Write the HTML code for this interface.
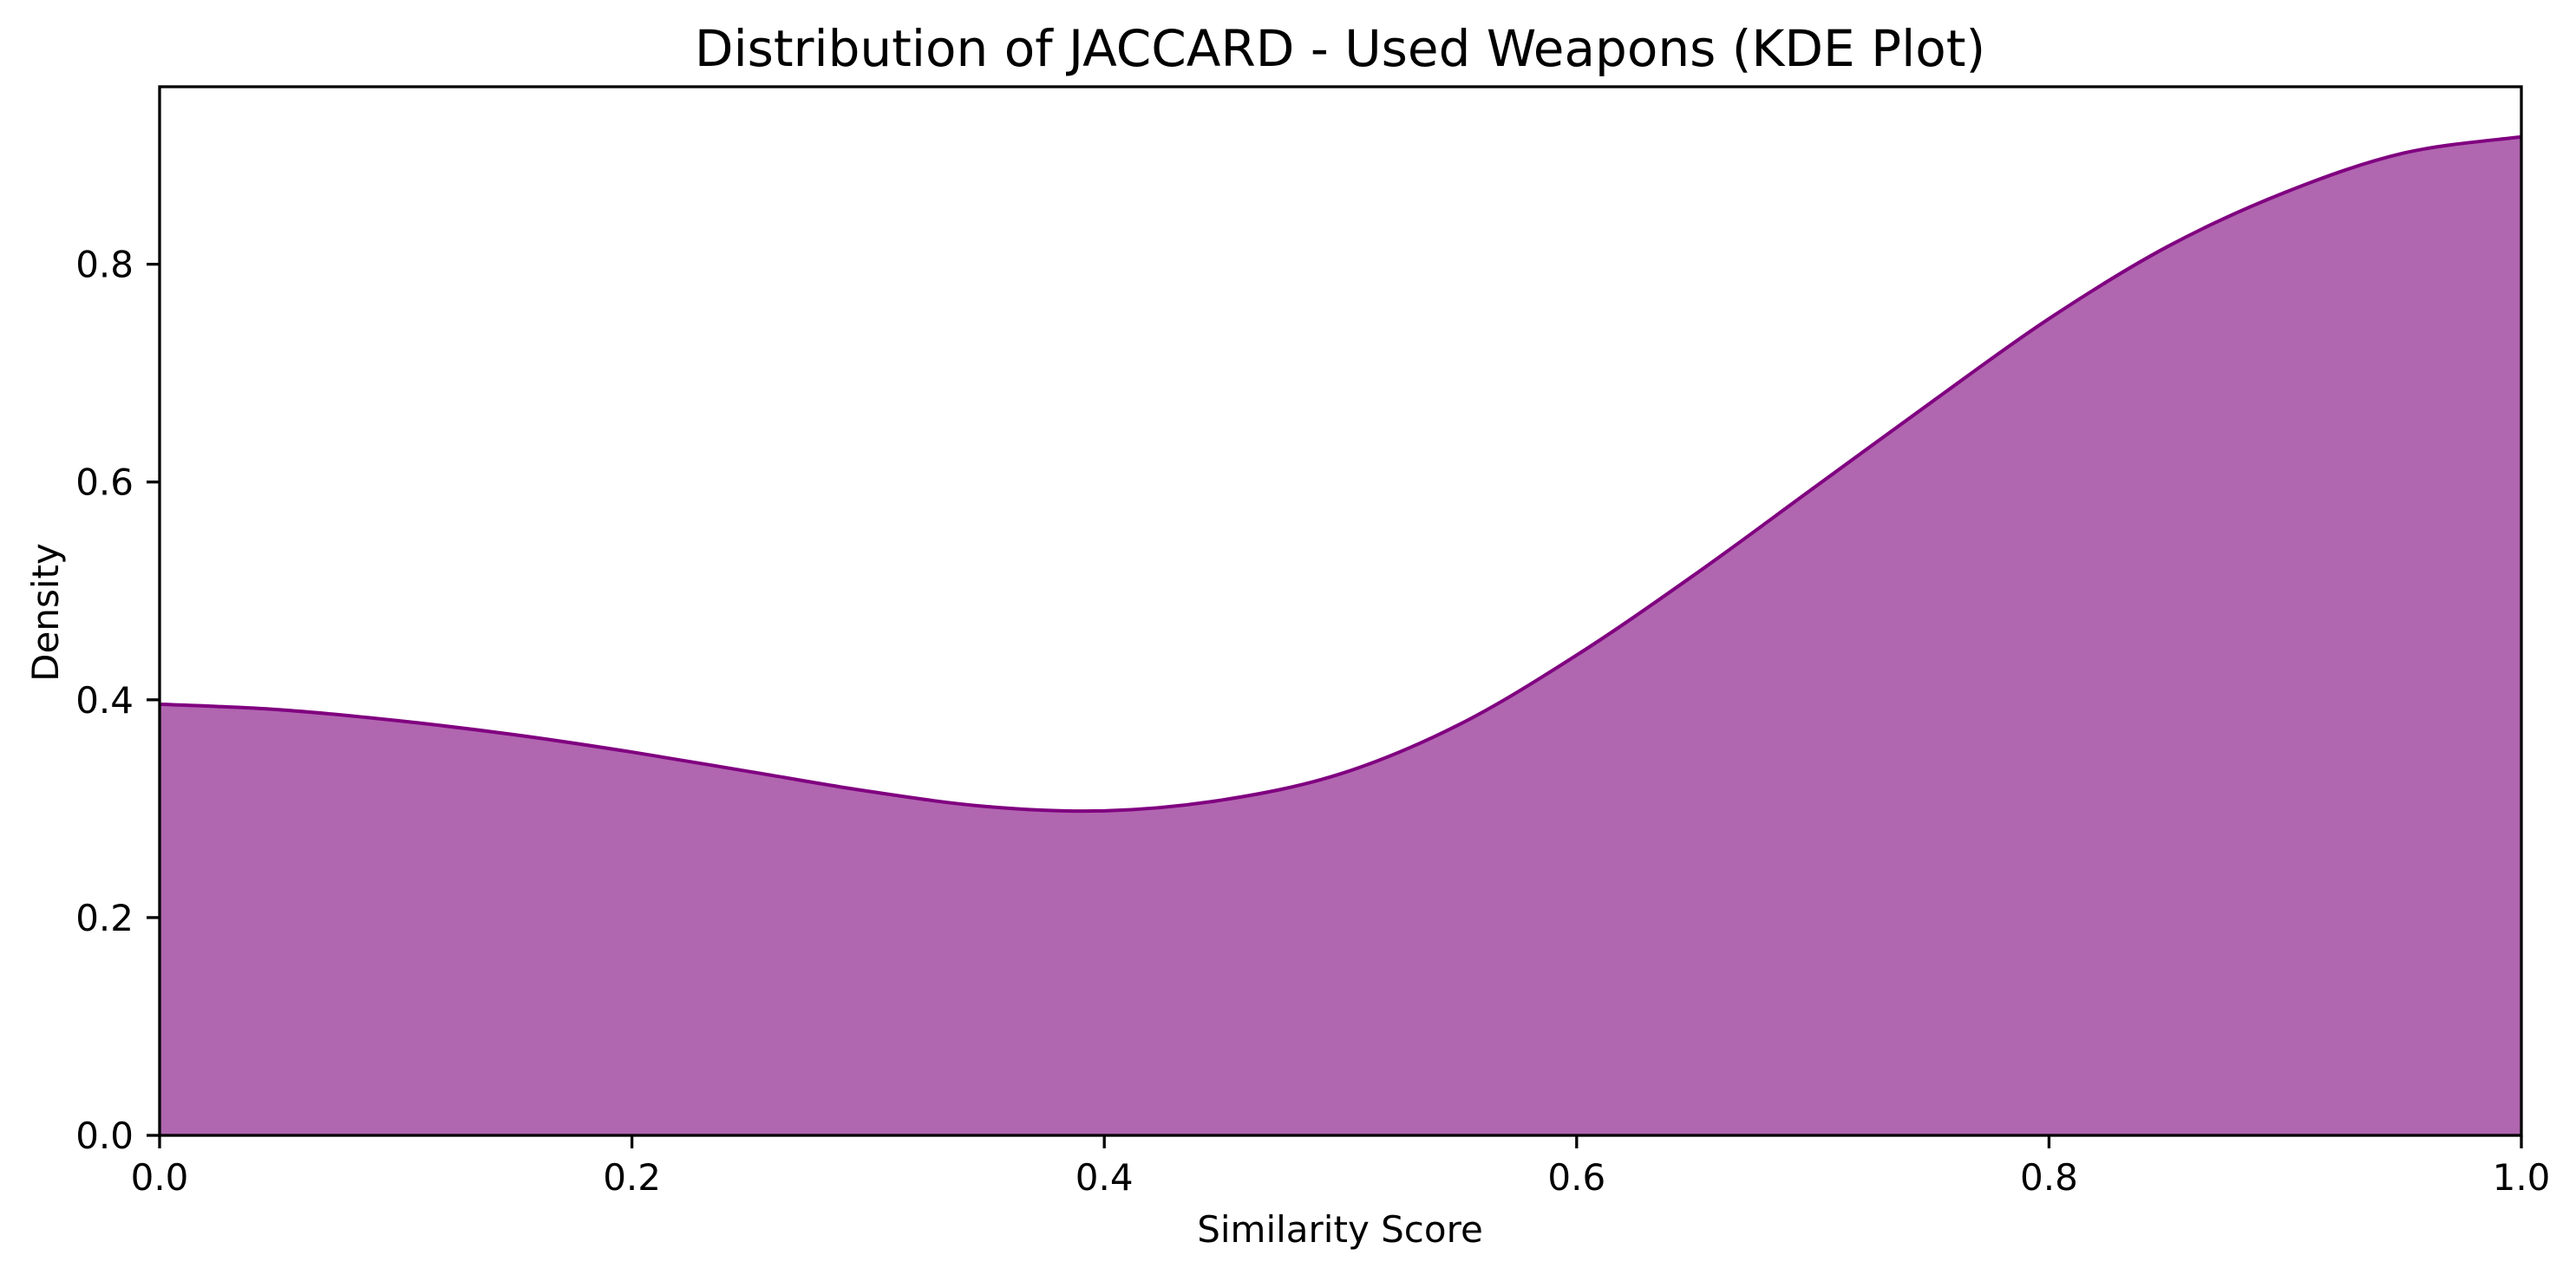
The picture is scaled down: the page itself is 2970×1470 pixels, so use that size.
<!DOCTYPE html>
<html><head><meta charset="utf-8"><style>
html,body{margin:0;padding:0;background:#fff;}
svg{display:block;font-family:"DejaVu Sans","Liberation Sans",sans-serif;}
</style></head><body>
<svg id="chart" width="2970" height="1470" viewBox="0 0 2970 1470">
<rect x="0" y="0" width="2970" height="1470" fill="#fff"/>
<text x="1545" y="76" font-size="58" text-anchor="middle">Distribution of JACCARD - Used Weapons (KDE Plot)</text>
<g id="plot"></g>
<text x="1545" y="1432" font-size="42" text-anchor="middle">Similarity Score</text>
<text x="0" y="0" font-size="42" text-anchor="middle" transform="translate(67,706) rotate(-90)">Density</text>
</svg>
<script>
const xs = [0,0.05,0.1,0.15,0.2,0.25,0.3,0.35,0.4,0.45,0.5,0.55,0.6,0.65,0.7,0.75,0.8,0.85,0.9,0.95,1.0];
const density = [0.396,0.391,0.381,0.368,0.352,0.334,0.316,0.302,0.298,0.308,0.332,0.377,0.441,0.515,0.594,0.673,0.750,0.816,0.866,0.902,0.917];
const xTicks = [0,0.2,0.4,0.6,0.8,1.0];
const xTickLabels = ["0.0","0.2","0.4","0.6","0.8","1.0"];
const yTicks = [0,0.2,0.4,0.6,0.8];
const yTickLabels = ["0.0","0.2","0.4","0.6","0.8"];

const L=184,R=2907,T=100,B=1309,YMAX=0.963;
function sx(v){return L+(R-L)*v;}
function sy(v){return B-(B-T)*v/YMAX;}
const NS="http://www.w3.org/2000/svg";
const g=document.getElementById('plot');
function mk(tag,attrs){const e=document.createElementNS(NS,tag);for(const k in attrs)e.setAttribute(k,attrs[k]);g.appendChild(e);return e;}

const pts=xs.map((x,i)=>[sx(x),sy(density[i])]);
let d="M"+pts[0][0]+","+pts[0][1];
for(let i=0;i<pts.length-1;i++){
  const p0=pts[Math.max(0,i-1)],p1=pts[i],p2=pts[i+1],p3=pts[Math.min(pts.length-1,i+2)];
  const c1=[p1[0]+(p2[0]-p0[0])/6,p1[1]+(p2[1]-p0[1])/6];
  const c2=[p2[0]-(p3[0]-p1[0])/6,p2[1]-(p3[1]-p1[1])/6];
  d+=" C"+c1[0]+","+c1[1]+" "+c2[0]+","+c2[1]+" "+p2[0]+","+p2[1];
}
const area=mk('path',{d:d+" L"+sx(1)+","+sy(0)+" L"+sx(0)+","+sy(0)+" Z",fill:"#b166b0",stroke:"none"});


const line=mk('path',{d:d,fill:"none",stroke:"#800080","stroke-width":"4"});



xTicks.forEach((v,i)=>{
  const t=mk('line',{x1:sx(v),x2:sx(v),y1:B,y2:B+15,stroke:"#000","stroke-width":"3.3"});
  
  
  const tx=mk('text',{x:sx(v),y:1372,"font-size":"42","text-anchor":"middle"});
  tx.textContent=xTickLabels[i];
  
  
});
yTicks.forEach((v,i)=>{
  const t=mk('line',{x1:L-15,x2:L,y1:sy(v),y2:sy(v),stroke:"#000","stroke-width":"3.3"});
  
  
  const tx=mk('text',{x:154,y:sy(v)+15,"font-size":"42","text-anchor":"end"});
  tx.textContent=yTickLabels[i];
  
  
});
const frame=mk('rect',{x:L,y:T,width:R-L,height:B-T,fill:"none",stroke:"#000","stroke-width":"3.3"});


</script>
</body></html>
